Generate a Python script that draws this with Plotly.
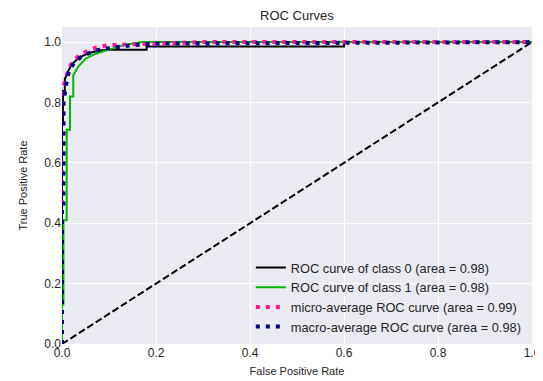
import plotly.graph_objects as go

# Class 0 ROC (black)
fpr0 = [0, 0, 0.002, 0.002, 0.006, 0.006, 0.012, 0.02, 0.03, 0.045, 0.06, 0.08, 0.10, 0.18, 0.18, 0.60, 0.60, 1.0]
tpr0 = [0, 0.73, 0.73, 0.838, 0.838, 0.877, 0.90, 0.925, 0.94, 0.955, 0.965, 0.972, 0.975, 0.975, 0.985, 0.985, 1.0, 1.0]
# Class 1 ROC (green)
fpr1 = [0, 0, 0.003, 0.003, 0.01, 0.01, 0.017, 0.017, 0.024, 0.024, 0.035, 0.05, 0.07, 0.10, 0.13, 0.17, 1.0]
tpr1 = [0, 0.13, 0.13, 0.41, 0.41, 0.71, 0.71, 0.82, 0.82, 0.89, 0.92, 0.945, 0.96, 0.975, 0.99, 1.0, 1.0]
# Micro-average
fpr_micro = [0, 0, 0.003, 0.003, 0.008, 0.015, 0.025, 0.04, 0.06, 0.08, 0.10, 0.15, 0.2, 0.3, 1.0]
tpr_micro = [0, 0.60, 0.60, 0.85, 0.88, 0.915, 0.94, 0.96, 0.975, 0.985, 0.99, 0.993, 0.996, 1.0, 1.0]
# Macro-average
fpr_macro = [0, 0, 0.003, 0.003, 0.01, 0.015, 0.025, 0.04, 0.06, 0.08, 0.10, 0.15, 0.2, 1.0]
tpr_macro = [0, 0.45, 0.45, 0.80, 0.87, 0.905, 0.93, 0.95, 0.965, 0.975, 0.98, 0.99, 0.995, 1.0]
# Chance line
diag = [0, 1]

names = ["ROC curve of class 0 (area = 0.98)",
         "ROC curve of class 1 (area = 0.98)",
         "micro-average ROC curve (area = 0.99)",
         "macro-average ROC curve (area = 0.98)"]
tick_vals = [0.0, 0.2, 0.4, 0.6, 0.8, 1.0]
tick_text = ["0.0", "0.2", "0.4", "0.6", "0.8", "1.0"]

fig = go.Figure()
fig.add_trace(go.Scatter(x=diag, y=diag, mode="lines", showlegend=False,
                         line=dict(color="black", width=2, dash="7px,3px")))
fig.add_trace(go.Scatter(x=fpr0, y=tpr0, mode="lines", name=names[0],
                         line=dict(color="black", width=2)))
fig.add_trace(go.Scatter(x=fpr1, y=tpr1, mode="lines", name=names[1],
                         line=dict(color="#00b800", width=2)))
fig.add_trace(go.Scatter(x=fpr_micro, y=tpr_micro, mode="lines", name=names[2],
                         line=dict(color="#ff1493", width=4, dash="4px,6px")))
fig.add_trace(go.Scatter(x=fpr_macro, y=tpr_macro, mode="lines", name=names[3],
                         line=dict(color="#000080", width=4, dash="4px,6px")))

# page body has an 8px default margin, so the figure is sized to fit the window
fig.update_layout(
    width=535, height=373,
    margin=dict(l=54, r=11, t=19, b=37, autoexpand=False),
    paper_bgcolor="white", plot_bgcolor="#eaeaf2",
    font=dict(family="Liberation Sans, Arial, sans-serif", size=12, color="#262626"),
    title=dict(text="ROC Curves", x=0.540, xanchor="center", y=0.979, yanchor="middle",
               font=dict(size=13, color="#262626")),
    legend=dict(x=0.989, y=0.007, xanchor="right", yanchor="bottom",
                bgcolor="rgba(0,0,0,0)", font=dict(size=12.8), traceorder="normal",
                tracegroupgap=0),
)
fig.update_xaxes(range=[0, 1.0], tickvals=tick_vals, ticktext=tick_text, automargin=False,
                 gridcolor="white", gridwidth=1, zeroline=False, showline=False,
                 ticks="", tickfont=dict(size=12),
                 title=dict(text="False Positive Rate", standoff=8, font=dict(size=11)))
fig.update_yaxes(range=[0, 1.05], tickvals=tick_vals, ticktext=tick_text, automargin=False,
                 gridcolor="white", gridwidth=1, zeroline=False, showline=False,
                 ticks="", tickfont=dict(size=12),
                 title=dict(text="True Positive Rate", standoff=14, font=dict(size=11)))

fig.write_html("out.html")
